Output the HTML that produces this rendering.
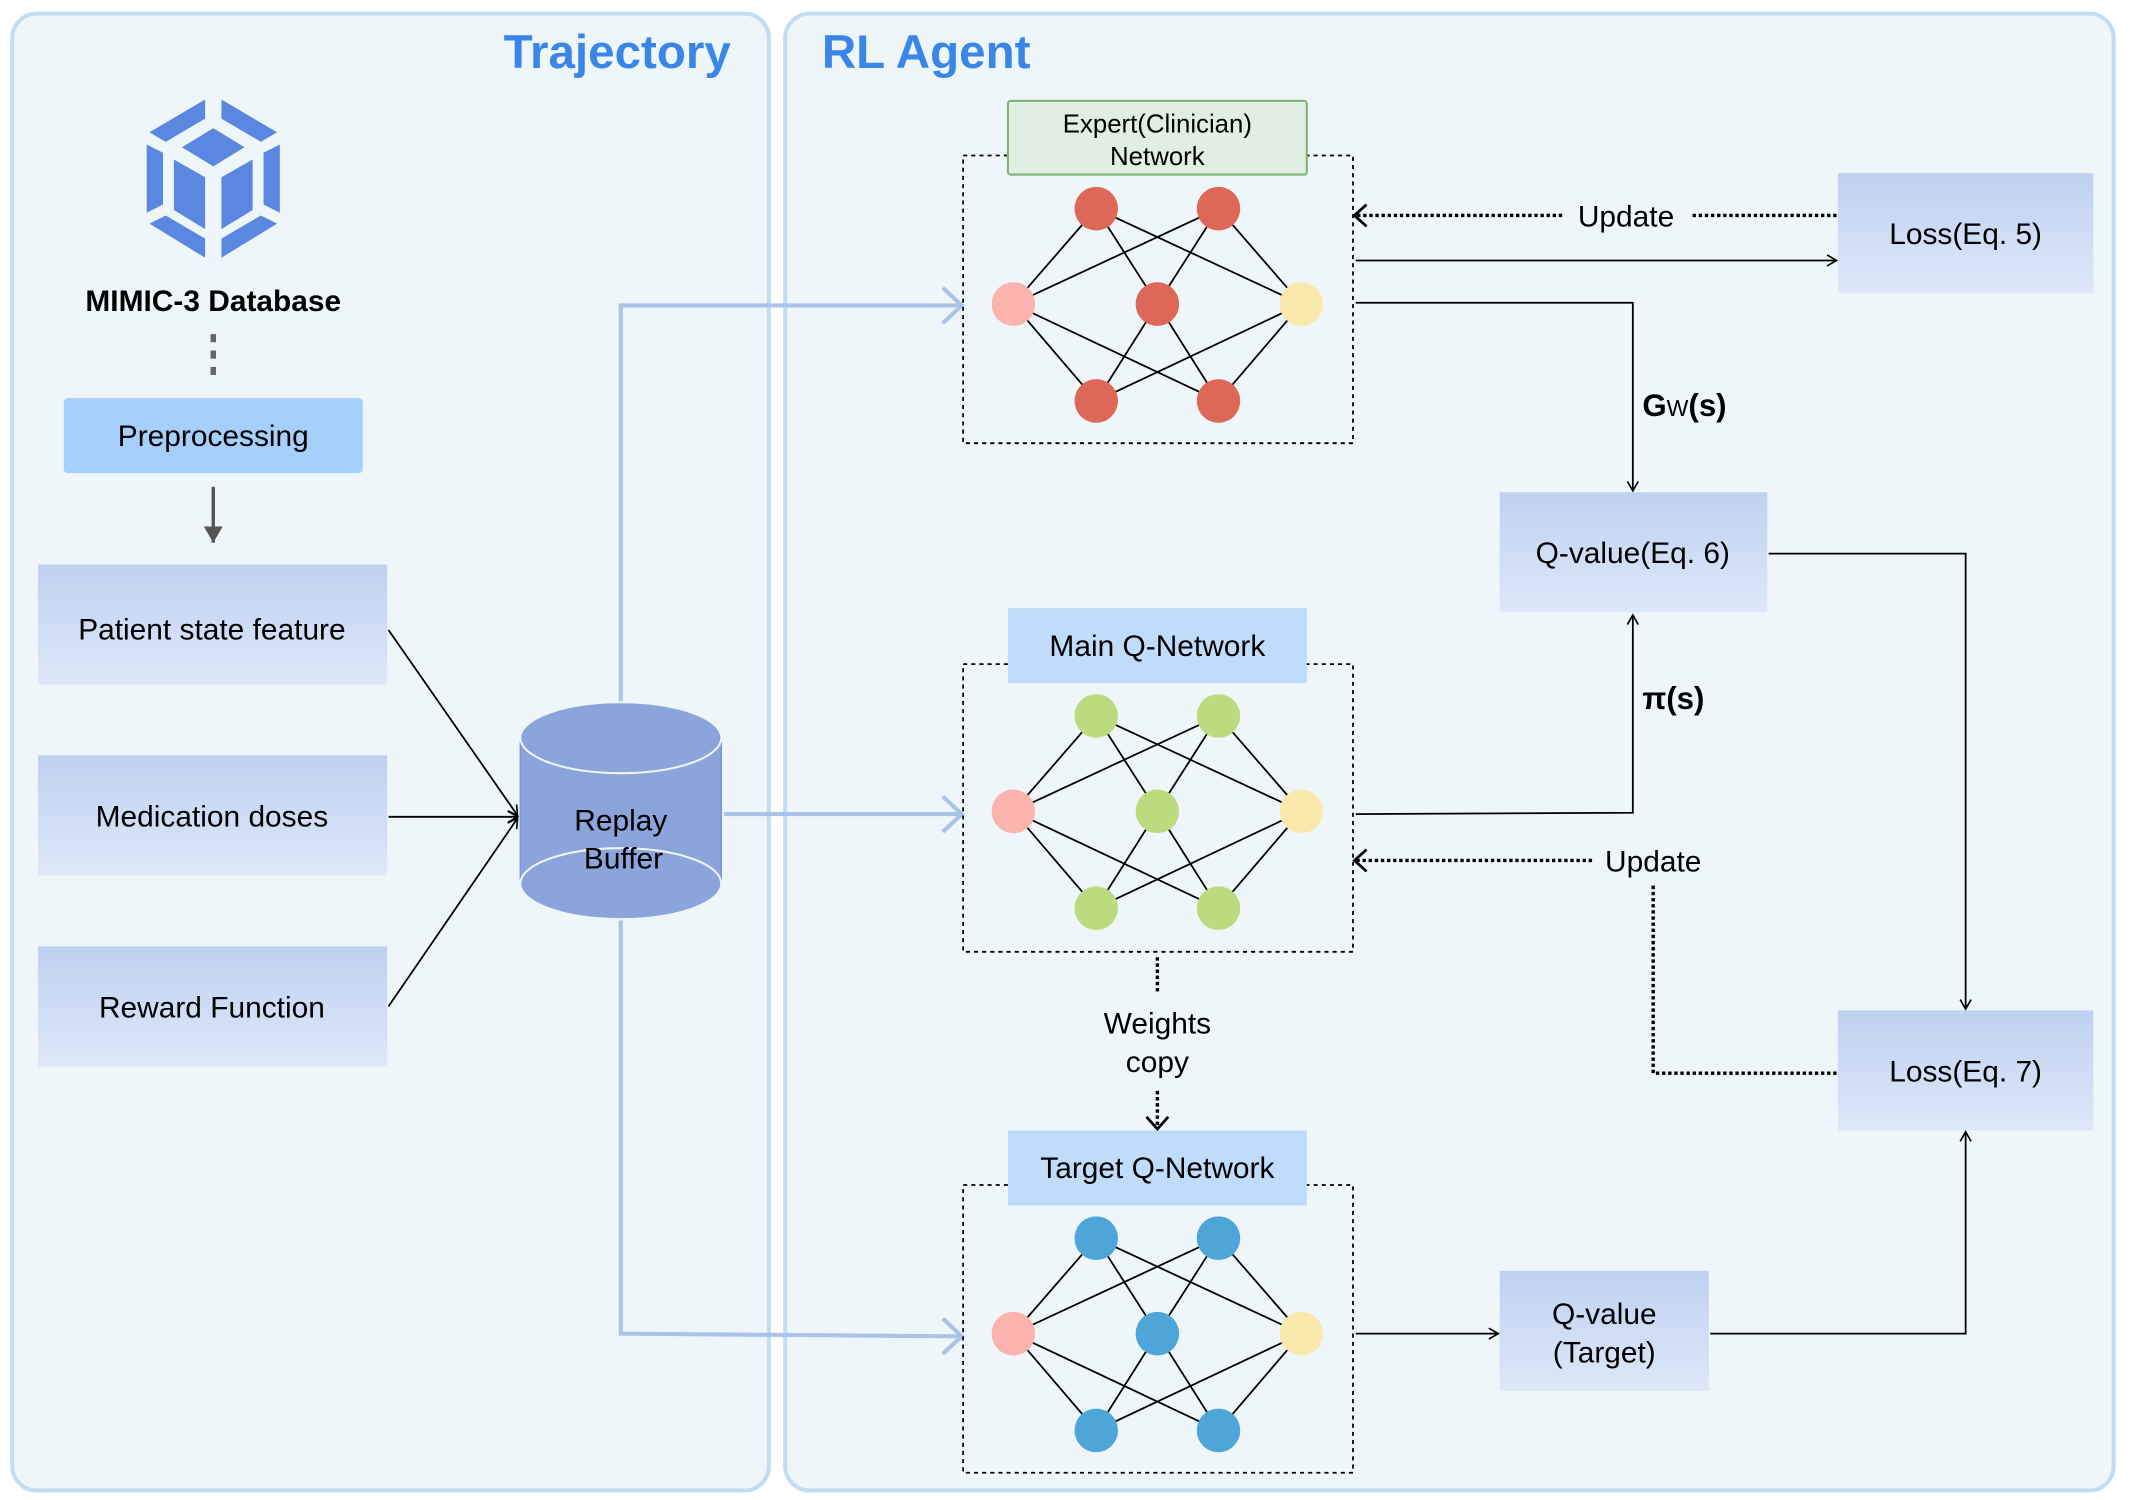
<!DOCTYPE html>
<html><head><meta charset="utf-8"><style>
html,body{margin:0;padding:0;background:#fff}
svg{display:block}
text{font-family:"Liberation Sans",sans-serif}
</style></head><body>
<svg width="2130" height="1500" viewBox="0 0 1568 1100" preserveAspectRatio="none" xmlns="http://www.w3.org/2000/svg">
<defs>
<linearGradient id="g" x1="0" y1="0" x2="0" y2="1"><stop offset="0" stop-color="#bfd1f1"/><stop offset="1" stop-color="#dde8f8"/></linearGradient>
<marker id="a" markerWidth="10" markerHeight="10" refX="8" refY="5" orient="auto" markerUnits="userSpaceOnUse"><path d="M1,1 L8,5 L1,9" fill="none" stroke="#000" stroke-width="1.2"/></marker>
<marker id="ab" markerWidth="20" markerHeight="30" refX="16" refY="15" orient="auto" markerUnits="userSpaceOnUse"><path d="M2,2 L16,15 L2,28" fill="none" stroke="#a9c3ea" stroke-width="3"/></marker>
<marker id="ad" markerWidth="14" markerHeight="18" refX="11" refY="9" orient="auto" markerUnits="userSpaceOnUse"><path d="M2,1 L11,9 L2,17" fill="none" stroke="#000" stroke-width="2"/></marker>
<marker id="ag" markerWidth="14" markerHeight="16" refX="12" refY="8" orient="auto" markerUnits="userSpaceOnUse"><path d="M0,1 L12,8 L0,15 Z" fill="#555"/></marker>
</defs>
<rect x="0" y="0" width="1568" height="1100" fill="#fff"/>
<rect x="9" y="10" width="557" height="1083" rx="18" fill="#eef6fa" stroke="#c2dcf3" stroke-width="3"/>
<rect x="578" y="10" width="978" height="1083" rx="18" fill="#eef6fa" stroke="#c2dcf3" stroke-width="3"/>
<text x="538" y="50" text-anchor="end" font-size="35" font-weight="bold" fill="#3a86e8">Trajectory</text>
<text x="605" y="50" font-size="35" font-weight="bold" fill="#3a86e8">RL Agent</text>

<g fill="#5a88e0">
<polygon points="151,73 151,87 122,104 110,97"/>
<polygon points="163,73 163,87 192,104 204,97"/>
<polygon points="108,106 120,112 120,150 108,156"/>
<polygon points="206,106 194,112 194,150 206,156"/>
<polygon points="110,164 122,158 151,175 151,189"/>
<polygon points="204,164 192,158 163,175 163,189"/>
<polygon points="157,94 180,108 157,122 134,108"/>
<polygon points="128,117 151,130 151,168 128,154"/>
<polygon points="186,117 163,130 163,168 186,154"/>
</g>
<text x="157" y="228" text-anchor="middle" font-size="22" font-weight="bold">MIMIC-3 Database</text>
<line x1="157" y1="245" x2="157" y2="280" stroke="#666" stroke-width="4" stroke-dasharray="6,6"/>
<rect x="47" y="292" width="220" height="55" rx="3" fill="#a6d0fb"/>
<text x="157" y="327" text-anchor="middle" font-size="22">Preprocessing</text>
<line x1="157" y1="357" x2="157" y2="398" stroke="#555" stroke-width="2.5" marker-end="url(#ag)"/>
<rect x="28" y="414" width="257" height="88" fill="url(#g)"/>
<text x="156" y="469" text-anchor="middle" font-size="22">Patient state feature</text>
<rect x="28" y="554" width="257" height="88" fill="url(#g)"/>
<text x="156" y="606" text-anchor="middle" font-size="22">Medication doses</text>
<rect x="28" y="694" width="257" height="88" fill="url(#g)"/>
<text x="156" y="746" text-anchor="middle" font-size="22">Reward Function</text>
<g stroke="#000" stroke-width="1.3" fill="none">
<line x1="286" y1="462" x2="381" y2="598" marker-end="url(#a)"/>
<line x1="286" y1="599" x2="381" y2="599" marker-end="url(#a)"/>
<line x1="286" y1="738" x2="381" y2="600" marker-end="url(#a)"/>
</g>
<g stroke="#a9c3ea" stroke-width="3" fill="none">
<polyline points="457,516 457,224 708,224" marker-end="url(#ab)"/>
<line x1="533" y1="597" x2="708" y2="597" marker-end="url(#ab)"/>
<polyline points="457,675 457,978 708,980" marker-end="url(#ab)"/>
</g>
<path d="M383,541 L383,648 A74,26 0 0 0 531,648 L531,541" fill="#8ba4dc" stroke="#7a95d2" stroke-width="1"/>
<ellipse cx="457" cy="648" rx="74" ry="26" fill="#8ba4dc" stroke="#eef6fa" stroke-width="1.5"/>
<ellipse cx="457" cy="541" rx="74" ry="26" fill="#8ba4dc" stroke="#eef6fa" stroke-width="1.5"/>
<text x="457" y="609" text-anchor="middle" font-size="22">Replay</text>
<text x="459" y="637" text-anchor="middle" font-size="22">Buffer</text>

<rect x="709" y="114" width="287" height="211" fill="none" stroke="#000" stroke-width="1.3" stroke-dasharray="3,3"/>
<rect x="709" y="487" width="287" height="211" fill="none" stroke="#000" stroke-width="1.3" stroke-dasharray="3,3"/>
<rect x="709" y="869" width="287" height="211" fill="none" stroke="#000" stroke-width="1.3" stroke-dasharray="3,3"/>
<rect x="742" y="74" width="220" height="54" rx="2" fill="#e0eee3" stroke="#7cb374" stroke-width="1.5"/>
<text x="852" y="97" text-anchor="middle" font-size="19">Expert(Clinician)</text>
<text x="852" y="121" text-anchor="middle" font-size="19">Network</text>
<rect x="742" y="446" width="220" height="55" fill="#bfdcfb"/>
<text x="852" y="481" text-anchor="middle" font-size="22">Main Q-Network</text>
<rect x="742" y="829" width="220" height="55" fill="#bfdcfb"/>
<text x="852" y="864" text-anchor="middle" font-size="22">Target Q-Network</text>

<g stroke="#000" stroke-width="1.3">
<g id="e">
<line x1="746" y1="223" x2="807" y2="153"/><line x1="746" y1="223" x2="897" y2="153"/>
<line x1="746" y1="223" x2="807" y2="294"/><line x1="746" y1="223" x2="897" y2="294"/>
<line x1="852" y1="223" x2="807" y2="153"/><line x1="852" y1="223" x2="897" y2="153"/>
<line x1="852" y1="223" x2="807" y2="294"/><line x1="852" y1="223" x2="897" y2="294"/>
<line x1="958" y1="223" x2="807" y2="153"/><line x1="958" y1="223" x2="897" y2="153"/>
<line x1="958" y1="223" x2="807" y2="294"/><line x1="958" y1="223" x2="897" y2="294"/>
</g>
<use href="#e" y="372"/>
<use href="#e" y="755"/>
</g>
<g>
<circle cx="807" cy="153" r="16" fill="#dd6857"/><circle cx="897" cy="153" r="16" fill="#dd6857"/>
<circle cx="746" cy="223" r="16" fill="#fbb4ad"/><circle cx="852" cy="223" r="16" fill="#dd6857"/><circle cx="958" cy="223" r="16" fill="#fbe8ad"/>
<circle cx="807" cy="294" r="16" fill="#dd6857"/><circle cx="897" cy="294" r="16" fill="#dd6857"/>
<circle cx="807" cy="525" r="16" fill="#bcdb7f"/><circle cx="897" cy="525" r="16" fill="#bcdb7f"/>
<circle cx="746" cy="595" r="16" fill="#fbb4ad"/><circle cx="852" cy="595" r="16" fill="#bcdb7f"/><circle cx="958" cy="595" r="16" fill="#fbe8ad"/>
<circle cx="807" cy="666" r="16" fill="#bcdb7f"/><circle cx="897" cy="666" r="16" fill="#bcdb7f"/>
<circle cx="807" cy="908" r="16" fill="#4ea6d8"/><circle cx="897" cy="908" r="16" fill="#4ea6d8"/>
<circle cx="746" cy="978" r="16" fill="#fbb4ad"/><circle cx="852" cy="978" r="16" fill="#4ea6d8"/><circle cx="958" cy="978" r="16" fill="#fbe8ad"/>
<circle cx="807" cy="1049" r="16" fill="#4ea6d8"/><circle cx="897" cy="1049" r="16" fill="#4ea6d8"/>
</g>

<rect x="1353" y="127" width="188" height="88" fill="url(#g)"/>
<text x="1447" y="179" text-anchor="middle" font-size="22">Loss(Eq. 5)</text>
<rect x="1104" y="361" width="197" height="88" fill="url(#g)"/>
<text x="1202" y="413" text-anchor="middle" font-size="22">Q-value(Eq. 6)</text>
<rect x="1353" y="741" width="188" height="88" fill="url(#g)"/>
<text x="1447" y="793" text-anchor="middle" font-size="22">Loss(Eq. 7)</text>
<rect x="1104" y="932" width="154" height="88" fill="url(#g)"/>
<text x="1181" y="971" text-anchor="middle" font-size="22">Q-value</text>
<text x="1181" y="999" text-anchor="middle" font-size="22">(Target)</text>

<g stroke="#000" stroke-width="1.3" fill="none">
<line x1="998" y1="191" x2="1352" y2="191" marker-end="url(#a)"/>
<polyline points="998,222 1202,222 1202,360" marker-end="url(#a)"/>
<polyline points="998,597 1202,596 1202,451" marker-end="url(#a)"/>
<polyline points="1302,406 1447,406 1447,740" marker-end="url(#a)"/>
<line x1="998" y1="978" x2="1103" y2="978" marker-end="url(#a)"/>
<polyline points="1259,978 1447,978 1447,830" marker-end="url(#a)"/>
</g>
<g stroke="#000" stroke-width="2.5" fill="none" stroke-dasharray="2.5,2">
<line x1="1352" y1="158" x2="1246" y2="158"/>
<line x1="1150" y1="158" x2="997" y2="158" marker-end="url(#ad)"/>
<polyline points="1352,787 1217,787 1217,648"/>
<line x1="1172" y1="631" x2="997" y2="631" marker-end="url(#ad)"/>
<line x1="852" y1="702" x2="852" y2="728"/>
<line x1="852" y1="800" x2="852" y2="828" marker-end="url(#ad)"/>
</g>
<text x="1197" y="166" text-anchor="middle" font-size="22">Update</text>
<text x="1217" y="639" text-anchor="middle" font-size="22">Update</text>
<text x="852" y="758" text-anchor="middle" font-size="22">Weights</text>
<text x="852" y="786" text-anchor="middle" font-size="22">copy</text>
<text x="1209" y="305" font-size="23" font-weight="bold">G<tspan font-size="17" font-weight="normal">W</tspan>(s)</text>
<text x="1209" y="520" font-size="23" font-weight="bold">π(s)</text>
</svg>
</body></html>
